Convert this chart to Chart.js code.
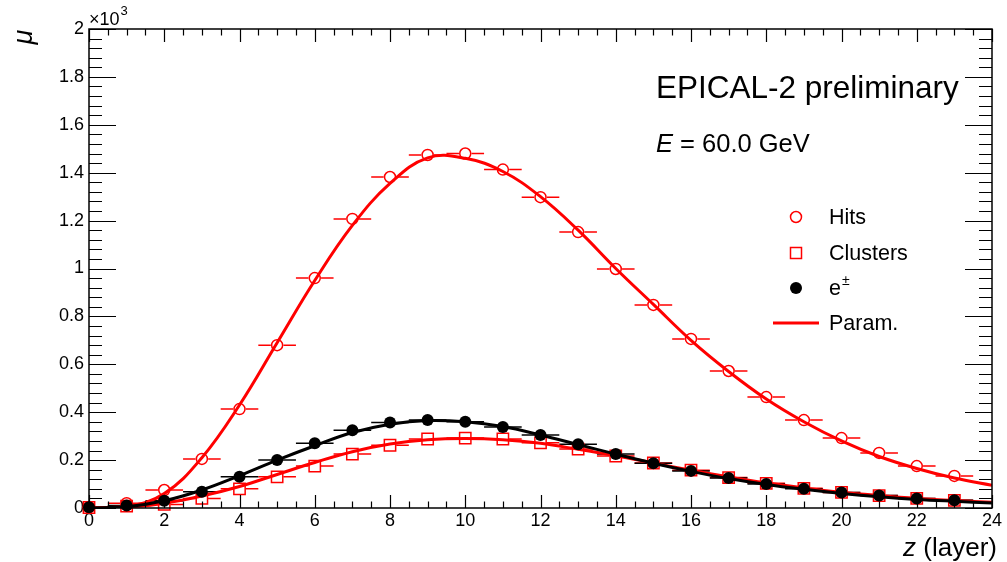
<!DOCTYPE html>
<html>
<head>
<meta charset="utf-8">
<script src="https://cdn.jsdelivr.net/npm/chart.js@4.4.0/dist/chart.umd.min.js"></script>
<style>
  html, body { margin: 0; padding: 0; background: #fff; }
  #wrap { width: 1007px; height: 562px; }
</style>
</head>
<body>
<div id="wrap"><canvas id="c" width="1007" height="562"></canvas></div>
<script>
// ---- data (values in units of 10^3) ----
const layers = [0,1,2,3,4,5,6,7,8,9,10,11,12,13,14,15,16,17,18,19,20,21,22,23];
const hits      = [0.003,0.020,0.075,0.205,0.413,0.680,0.960,1.207,1.382,1.474,1.480,1.413,1.298,1.152,0.998,0.848,0.706,0.572,0.463,0.367,0.292,0.230,0.175,0.134];
const clusters  = [0.002,0.008,0.015,0.040,0.080,0.130,0.175,0.225,0.262,0.288,0.292,0.288,0.272,0.246,0.217,0.188,0.158,0.127,0.103,0.082,0.065,0.052,0.040,0.032];
const electrons = [0.003,0.010,0.030,0.068,0.130,0.200,0.270,0.325,0.357,0.367,0.360,0.338,0.305,0.266,0.225,0.187,0.155,0.125,0.100,0.080,0.065,0.052,0.040,0.032];

const paramZ        = [0,1,2,3,4,5,6,7,8,9,10,11,12,13,14,15,16,17,18,19,20,21,22,23,24];
const hitsParam     = [0,0.005,0.060,0.210,0.430,0.690,0.950,1.180,1.355,1.462,1.460,1.405,1.300,1.160,1.000,0.850,0.700,0.570,0.455,0.360,0.280,0.215,0.165,0.125,0.095];
const clustersParam = [0,0.003,0.020,0.050,0.090,0.140,0.190,0.235,0.267,0.285,0.290,0.285,0.270,0.245,0.218,0.188,0.158,0.130,0.105,0.084,0.066,0.052,0.040,0.031,0.024];
const electronParam = [0,0.005,0.030,0.075,0.135,0.200,0.260,0.315,0.350,0.365,0.360,0.340,0.305,0.265,0.225,0.187,0.153,0.123,0.098,0.078,0.061,0.047,0.036,0.028,0.021];

const xTickLabels = [0,2,4,6,8,10,12,14,16,18,20,22,24];
const yTickLabels = ['0','0.2','0.4','0.6','0.8','1','1.2','1.4','1.6','1.8','2'];
const legendLabels = ['Hits','Clusters','e','Param.'];

const RED = '#ff0000', BLACK = '#000000';
const FONT = '"Liberation Sans", Arial, Helvetica, sans-serif';

function pts(xs, ys) { return xs.map((x, i) => ({ x: x, y: ys[i] })); }

const markerInfo = [
  { data: hits, color: RED, gap: 6.3 },
  { data: clusters, color: RED, gap: 6.2 },
  { data: electrons, color: BLACK, gap: 0 }
];

const rootPlugin = {
  id: 'rootStyle',
  beforeDatasetsDraw(chart) {
    const { ctx, scales: { x, y } } = chart;
    ctx.save();
    ctx.lineWidth = 1.5;
    markerInfo.forEach(m => {
      ctx.strokeStyle = m.color;
      layers.forEach((z, i) => {
        const py = y.getPixelForValue(m.data[i]);
        const px = x.getPixelForValue(z);
        const x0 = x.getPixelForValue(Math.max(0, z - 0.5));
        const x1 = x.getPixelForValue(z + 0.5);
        ctx.beginPath();
        if (m.gap > 0) {
          ctx.moveTo(x0, py); ctx.lineTo(px - m.gap, py);
          ctx.moveTo(px + m.gap, py); ctx.lineTo(x1, py);
        } else {
          ctx.moveTo(x0, py); ctx.lineTo(x1, py);
        }
        ctx.stroke();
      });
    });
    ctx.restore();
  },
  afterDraw(chart) {
    const { ctx, chartArea: a, scales: { x, y } } = chart;
    ctx.save();
    // frame
    ctx.strokeStyle = BLACK;
    ctx.lineWidth = 1.5;
    ctx.strokeRect(a.left, a.top, a.right - a.left, a.bottom - a.top);
    // x ticks (bottom + top)
    ctx.lineWidth = 1.2;
    ctx.beginPath();
    for (let i = 0; i <= 48; i++) {
      const v = i * 0.5;
      const px = Math.round(x.getPixelForValue(v)) + 0.5;
      const len = (i % 4 === 0) ? 13 : 6.5;
      ctx.moveTo(px, a.bottom); ctx.lineTo(px, a.bottom - len);
      ctx.moveTo(px, a.top); ctx.lineTo(px, a.top + len);
    }
    // y ticks (left + right)
    for (let i = 0; i <= 50; i++) {
      const v = i * 0.04;
      const py = Math.round(y.getPixelForValue(v)) + 0.5;
      const len = (i % 5 === 0) ? 27 : 13;
      ctx.moveTo(a.left, py); ctx.lineTo(a.left + len, py);
      ctx.moveTo(a.right, py); ctx.lineTo(a.right - len, py);
    }
    ctx.stroke();

    ctx.fillStyle = BLACK;
    ctx.textBaseline = 'alphabetic';
    // x10^3
    ctx.textAlign = 'left';
    ctx.font = '18px ' + FONT;
    ctx.fillText('\u00d710', a.left, 25);
    const w10 = ctx.measureText('\u00d710').width;
    ctx.font = '13px ' + FONT;
    ctx.fillText('3', a.left + w10 + 1, 15);

    // y title mu (rotated)
    ctx.save();
    ctx.translate(32, 37);
    ctx.rotate(-Math.PI / 2);
    ctx.textAlign = 'center';
    ctx.font = 'italic 27px ' + FONT;
    ctx.fillText('\u03bc', 0, 0);
    ctx.restore();

    // x title
    ctx.textAlign = 'right';
    ctx.font = '26px ' + FONT;
    const tLayer = ' (layer)';
    ctx.fillText(tLayer, 997, 556);
    const wl = ctx.measureText(tLayer).width;
    ctx.font = 'italic 26px ' + FONT;
    ctx.fillText('z', 997 - wl, 556);

    // EPICAL label
    ctx.textAlign = 'left';
    ctx.font = '31.5px ' + FONT;
    ctx.fillText('EPICAL-2 preliminary', 656, 98);
    // Energy
    ctx.font = 'italic 25.5px ' + FONT;
    ctx.fillText('E', 656, 152);
    const wE = ctx.measureText('E').width;
    ctx.font = '25.5px ' + FONT;
    ctx.fillText(' = 60.0 GeV', 656 + wE, 152);

    // legend
    const lx = 796, tx = 829;
    const ly = [217, 253, 288, 323];
    ctx.lineWidth = 1.5;
    ctx.strokeStyle = RED;
    ctx.beginPath(); ctx.arc(lx, ly[0], 5.5, 0, Math.PI * 2); ctx.stroke();
    ctx.strokeRect(lx - 5.5, ly[1] - 5.5, 11, 11);
    ctx.fillStyle = BLACK;
    ctx.beginPath(); ctx.arc(lx, ly[2], 6, 0, Math.PI * 2); ctx.fill();
    ctx.strokeStyle = RED; ctx.lineWidth = 3;
    ctx.beginPath(); ctx.moveTo(773, ly[3]); ctx.lineTo(819, ly[3]); ctx.stroke();

    ctx.fillStyle = BLACK;
    ctx.textBaseline = 'middle';
    ctx.font = '21.5px ' + FONT;
    ctx.fillText(legendLabels[0], tx, ly[0] + 1);
    ctx.fillText(legendLabels[1], tx, ly[1] + 1);
    ctx.fillText(legendLabels[2], tx, ly[2] + 1);
    const we = ctx.measureText(legendLabels[2]).width;
    ctx.font = '14px ' + FONT;
    ctx.fillText('\u00b1', tx + we + 1, ly[2] - 7);
    ctx.font = '21.5px ' + FONT;
    ctx.fillText(legendLabels[3], tx, ly[3] + 1);
    ctx.restore();
  }
};

const ctx = document.getElementById('c').getContext('2d');
new Chart(ctx, {
  type: 'scatter',
  data: {
    datasets: [
      { label: 'e param', type: 'line', data: pts(paramZ, electronParam), borderColor: BLACK, borderWidth: 3,
        pointRadius: 0, fill: false, tension: 0.4, order: 0 },
      { label: 'e±', data: pts(layers, electrons), pointStyle: 'circle', pointRadius: 6, pointBorderWidth: 0,
        backgroundColor: BLACK, borderColor: BLACK, showLine: false, clip: false, order: 1 },
      { label: 'clusters param', type: 'line', data: pts(paramZ, clustersParam), borderColor: RED, borderWidth: 3,
        pointRadius: 0, fill: false, tension: 0.4, order: 2 },
      { label: 'Clusters', data: pts(layers, clusters), pointStyle: 'rect', pointRadius: 8, pointBorderWidth: 1.5,
        backgroundColor: 'rgba(0,0,0,0)', borderColor: RED, showLine: false, clip: false, order: 3 },
      { label: 'hits param', type: 'line', data: pts(paramZ, hitsParam), borderColor: RED, borderWidth: 3,
        pointRadius: 0, fill: false, tension: 0.4, order: 4 },
      { label: 'Hits', data: pts(layers, hits), pointStyle: 'circle', pointRadius: 5.5, pointBorderWidth: 1.5,
        backgroundColor: 'rgba(0,0,0,0)', borderColor: RED, showLine: false, clip: false, order: 5 }
    ]
  },
  options: {
    responsive: false,
    animation: false,
    events: [],
    layout: { padding: { top: 29, right: 15, left: 0, bottom: 0 } },
    plugins: { legend: { display: false }, tooltip: { enabled: false }, title: { display: false } },
    scales: {
      x: {
        type: 'linear', min: 0, max: 24,
        afterFit(s) { s.height = 54; },
        afterBuildTicks(s) { s.ticks = xTickLabels.map(v => ({ value: v })); },
        grid: { display: false, drawTicks: false },
        border: { display: false },
        ticks: { color: BLACK, padding: 2, maxRotation: 0, autoSkip: false,
                 font: { family: FONT, size: 18 }, callback: v => String(v) }
      },
      y: {
        type: 'linear', min: 0, max: 2,
        afterFit(s) { s.width = 89; },
        afterBuildTicks(s) { s.ticks = yTickLabels.map(t => ({ value: parseFloat(t) })); },
        grid: { display: false, drawTicks: false },
        border: { display: false },
        ticks: { color: BLACK, padding: 5, autoSkip: false,
                 font: { family: FONT, size: 18 },
                 callback: (v, i) => yTickLabels[i] }
      }
    }
  },
  plugins: [rootPlugin]
});
</script>
</body>
</html>
